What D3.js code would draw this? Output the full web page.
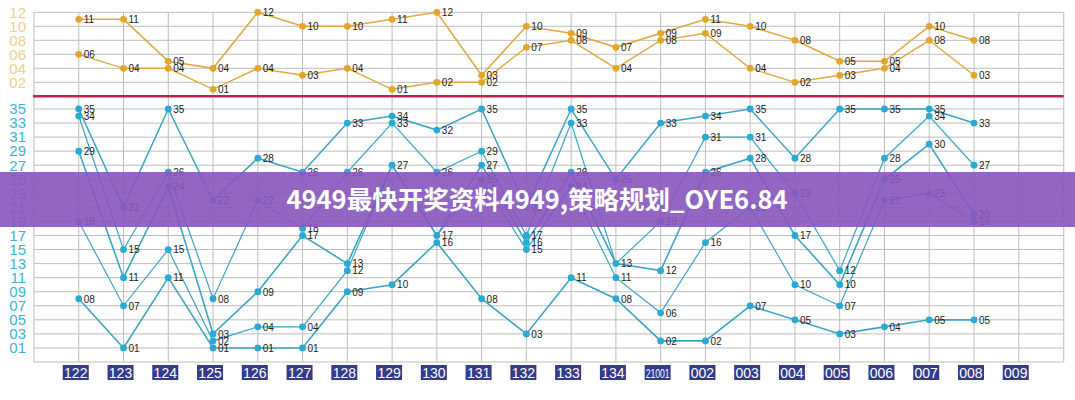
<!DOCTYPE html>
<html><head><meta charset="utf-8">
<script src="https://cdn.jsdelivr.net/npm/d3@7"></script>
<style>body{margin:0;background:#fff}svg{display:block}</style>
</head><body><svg id="c" width="1075" height="400"></svg>
<script>
const periods = ["122","123","124","125","126","127","128","129","130","131","132","133","134","21001","002","003","004","005","006","007","008","009"];
const topTicks = [2,4,6,8,10,12];
const bottomTicks = [1,3,5,7,9,11,13,15,17,19,21,23,25,27,29,31,33,35];
const orangeA = [11,11,5,4,12,10,10,11,12,3,10,9,7,9,11,10,8,5,5,10,8];
const orangeB = [6,4,4,1,4,3,4,1,2,2,7,8,4,8,9,4,2,3,4,8,3];
const blue1 = [35,21,35,22,28,26,33,34,32,35,21,35,25,33,34,35,28,35,35,35,33];
const blue2 = [34,15,26,8,22,18,26,33,26,29,17,33,13,19,31,31,23,12,28,34,27];
const blue3 = [29,11,24,3,9,17,13,27,17,27,16,26,13,12,26,28,17,10,25,30,20];
const blue4 = [19,7,15,2,4,4,12,27,17,25,15,24,11,6,16,21,10,7,22,23,19];
const blue5 = [8,1,11,1,1,1,9,10,16,8,3,11,8,2,2,7,5,3,4,5,5];
const title = "4949最快开奖资料4949,策略规划_OYE6.84";

const svg = d3.select("#c");
const left = 34, right = 1063.75;
const x = d3.scalePoint().domain(periods).range([78.75, 1018.75]);
const yTop = d3.scaleLinear().domain([0,12]).range([96.3, 12.3]);
const yBot = d3.scaleLinear().domain([-1,35]).range([362, 109]);
const grid = "#bdbdbd";

const vx = [left, ...periods.map(p => x(p)), right];
svg.append("g").selectAll("line").data(vx).join("line")
  .attr("x1", d=>d).attr("x2", d=>d).attr("y1", yTop(12)).attr("y2", yBot(-1))
  .attr("stroke", grid).attr("stroke-width", 1);
svg.append("g").selectAll("line").data(topTicks).join("line")
  .attr("x1", left).attr("x2", right).attr("y1", d=>yTop(d)).attr("y2", d=>yTop(d))
  .attr("stroke", grid);
svg.append("g").selectAll("line").data([...bottomTicks, -1]).join("line")
  .attr("x1", left).attr("x2", right).attr("y1", d=>yBot(d)).attr("y2", d=>yBot(d))
  .attr("stroke", grid);
svg.append("line").attr("x1", left-1).attr("x2", right).attr("y1", yTop(0)).attr("y2", yTop(0))
  .attr("stroke", "#c2224a").attr("stroke-width", 2.5);

const yAxisTop = d3.axisLeft(yTop).tickValues(topTicks).tickFormat(d=>String(d).padStart(2,"0")).tickSize(0).tickPadding(8);
const gt = svg.append("g").attr("transform", `translate(${left},0)`).call(yAxisTop);
gt.select(".domain").remove();
gt.selectAll("text").attr("fill", "#efcf8c").attr("font-size", 15).attr("font-family", "Liberation Sans, Arial, sans-serif");
const yAxisBot = d3.axisLeft(yBot).tickValues(bottomTicks).tickFormat(d=>String(d).padStart(2,"0")).tickSize(0).tickPadding(8);
const gb = svg.append("g").attr("transform", `translate(${left},0)`).call(yAxisBot);
gb.select(".domain").remove();
gb.selectAll("text").attr("fill", "#3fb2d6").attr("font-size", 15).attr("font-family", "Liberation Sans, Arial, sans-serif");

const xl = svg.append("g");
periods.forEach(p => {
  const cx = x(p) - 3;
  xl.append("rect").attr("x", cx-13).attr("y", 365).attr("width", 26).attr("height", 15).attr("fill", "#343b8c");
  xl.append("text").attr("x", cx).attr("y", 377.5).attr("text-anchor", "middle")
    .attr("fill", "#fff").attr("font-size", p.length>3 ? 13 : 14)
    .attr("font-family", "Liberation Sans Narrow, Arial Narrow, Liberation Sans, sans-serif")
    .attr("textLength", p.length>3 ? 24 : null).attr("lengthAdjust", "spacingAndGlyphs")
    .text(p);
});

function drawSeries(vals, y, lineColor, width) {
  const pts = vals.map((v,i) => [x(periods[i]), y(v), v, i]);
  svg.append("path").datum(pts).attr("fill","none").attr("stroke", lineColor).attr("stroke-width", width)
    .attr("d", d3.line().x(d=>d[0]).y(d=>d[1]));
  return pts;
}
function drawPanel(seriesList, y, lineColor, dotColor, widths) {
  const all = [];
  seriesList.forEach((s,k) => all.push(...drawSeries(s, y, lineColor, widths[k])));
  const seen = new Set();
  const uniq = all.filter(d => { const key = d[3]+"_"+d[2]; if (seen.has(key)) return false; seen.add(key); return true; });
  svg.append("g").selectAll("circle").data(uniq).join("circle")
    .attr("cx", d=>d[0]).attr("cy", d=>d[1]).attr("r", 3.4).attr("fill", dotColor);
  svg.append("g").selectAll("text").data(uniq).join("text")
    .attr("x", d=>d[0]+5).attr("y", d=>d[1]+3.8).attr("font-size", 10)
    .attr("font-family", "Liberation Sans, Arial, sans-serif").attr("fill", "#222")
    .text(d=>String(d[2]).padStart(2,"0"));
}
drawPanel([orangeA, orangeB], yTop, "#e2a93c", "#e3a52a", [1.6, 1.4]);
drawPanel([blue1, blue2, blue3, blue4, blue5], yBot, "#3aa6c6", "#29a9d3", [1.5,1.2,1.6,1.2,1.6]);

svg.append("rect").attr("x",0).attr("y",172).attr("width",1075).attr("height",55)
  .attr("fill","rgb(135,85,190)").attr("opacity",0.9);
svg.append("text").attr("x", 537).attr("y", 209).attr("text-anchor","middle")
  .attr("fill","#fff").attr("font-size",25.5).attr("font-weight","bold")
  .attr("font-family","Noto Sans CJK SC, Noto Sans, sans-serif").text(title);
</script></body></html>
